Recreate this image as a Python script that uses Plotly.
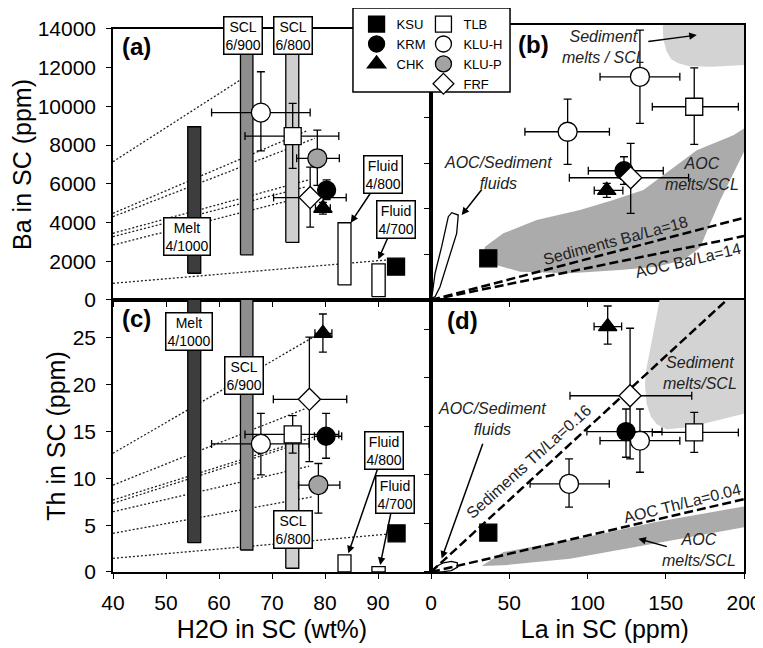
import plotly.graph_objects as go

# ---- samples (drawing order) ----
samples = ["KLU-H", "TLB", "KLU-P", "KRM", "FRF", "CHK", "KSU"]
symbols = ["circle", "square", "circle", "circle", "diamond", "triangle-up", "square"]
fill_left = ["white", "white", "#a3a3a3", "black", "white", "black", "black"]
fill_right = ["white", "white", "white", "black", "white", "black", "black"]
sizes = [19, 17, 19, 18, 17, 16, 17]
legend_group = ["legend2", "legend2", "legend2", "legend", "legend2", "legend", "legend"]
legend_rank = [2, 1, 3, 2, 4, 3, 1]

# panel (a): H2O vs Ba
h2o_a = [67.9, 73.9, 78.55, 80.3, 77.2, 79.6, 93.4]
ba_a = [9680, 8470, 7320, 5680, 5290, 4740, 1720]
h2o_a_minus = [9.3, 9.0, 3.9, 0, 6.9, 1.4, 0]
h2o_a_plus = [9.3, 8.7, 4.15, 0, 6.8, 1.4, 0]
ba_a_minus = [1980, 1670, 1400, 500, 1530, 300, 0]
ba_a_plus = [2110, 1690, 1460, 520, 1570, 300, 0]

# panel (b): La vs Ba
la_b = [133.5, 168.2, 87.3, 123.3, 127.6, 112.3, 36.6]
ba_b = [9781, 8467, 7372, 5663, 5357, 4800, 1825]
la_b_minus = [25.5, 26.8, 27.3, 22.8, 39.2, 8, 3]
la_b_plus = [25.5, 28.2, 26.7, 25.1, 37, 10.3, 3]
ba_b_minus = [2042, 1647, 1428, 600, 1560, 300, 0]
ba_b_plus = [2045, 1708, 1432, 614, 1506, 310, 0]

# panel (c): H2O vs Th
h2o_c = [67.9, 73.9, 78.75, 80.2, 77.05, 79.6, 93.5]
th_c = [13.68, 14.7, 9.29, 14.5, 18.45, 25.5, 4.13]
h2o_c_minus = [9.3, 9.0, 3.75, 2.2, 6.8, 1.5, 0]
h2o_c_plus = [9.1, 8.7, 4.05, 2.95, 7.05, 1.7, 0]
th_c_minus = [3.3, 2.0, 3.0, 2.35, 6.65, 2.0, 0]
th_c_plus = [3.27, 2.0, 2.3, 2.45, 6.65, 2.06, 0]

# panel (d): La vs Th
la_d = [133.5, 168.2, 88.2, 124.6, 127.2, 112.9, 36.6]
th_d = [13.52, 14.37, 9.08, 14.45, 18.14, 25.26, 4.05]
la_d_minus = [25.5, 26.8, 24.9, 25, 38.4, 8.7, 3]
la_d_plus = [25.5, 28.2, 25.7, 23, 39.4, 8.9, 3]
th_d_minus = [3.25, 2.05, 2.41, 2.64, 6.5, 1.81, 0]
th_d_plus = [3.26, 2.06, 2.56, 2.33, 6.95, 2.12, 0]

# experimental bars (panels a and c)
bar_labels = ["Melt<br>4/1000", "SCL<br>6/900", "SCL<br>6/800", "Fluid<br>4/800", "Fluid<br>4/700"]
bar_x0 = [54.1, 64.05, 72.6, 82.45, 88.85]
bar_x1 = [56.55, 66.4, 75.05, 84.9, 91.35]
bar_colors = ["#3d3d3d", "#8e8e8e", "#cfcfcf", "white", "white"]
ba_bar_low = [1380, 2330, 2980, 775, 170]
ba_bar_high = [8950, 15000, 15000, 3990, 1860]
th_bar_low = [3.13, 2.35, 0.4, 0, 0]
th_bar_high = [32, 32, 13.9, 1.82, 0.57]

# dotted mixing lines, all starting at H2O = 40
mix_a_start_ba = [7145, 4478, 4305, 3445, 3272, 2841, 861]
mix_a_end_h2o = [64.0, 76.5, 78.1, 76.85, 76.5, 72.45, 91.6]
mix_a_end_ba = [11365, 8730, 8353, 6200, 5853, 5078, 2066]
mix_c_start_th = [12.68, 9.29, 7.69, 7.34, 6.44, 4.13, 1.46]
mix_c_end_h2o = [77.8, 76.5, 78.1, 74.5, 77.0, 77.8, 93.5]
mix_c_end_th = [25.1, 17.5, 14.46, 13.6, 11.3, 8.05, 4.13]

# reference ratio lines
sed_ba_x, sed_ba_y = [0, 200], [0, 3600]
aoc_ba_x, aoc_ba_y = [0, 200], [0, 2800]
sed_th_x, sed_th_y = [0, 189], [0, 28]
aoc_th_x, aoc_th_y = [0, 200], [0, 7.5]

# fields
aoc_melt_b_la = [33.4, 34.5, 46.2, 67.5, 95.2, 116.5, 135.7, 152.8, 169.8, 193.2, 200, 200,
                 193, 185, 178, 172, 161.2, 144.2, 120.8, 88.8, 56.9, 37.7]
aoc_melt_b_ba = [2044, 2333, 2919, 3501, 3938, 4376, 4814, 5690, 6566, 7223, 7515, 6500,
                 5500, 4400, 3300, 2300, 1751, 1458, 1313, 1169, 1240, 1606]
sed_melt_b_la = [148, 148.5, 150.5, 153.5, 158, 165, 180, 200, 200]
sed_melt_b_ba = [12100, 11400, 10900, 10550, 10370, 10240, 10220, 10300, 12100]
fluid_b_la = [0.45, 2.56, 6.8, 11.05, 13.2, 17.4, 16.4, 11.05, 5.75, 2.56, 0.45]
fluid_b_ba = [74, 1170, 2335, 3650, 3825, 3723, 2920, 1752, 583, 145, 74]
sed_melt_d_la = [146.3, 143, 140, 137.5, 136.7, 137.8, 140.5, 144.2, 150.6, 165, 182.6, 200, 200]
sed_melt_d_th = [28.2, 25.5, 22.8, 20.8, 19.3, 17.3, 16.0, 15.2, 14.7, 14.9, 15.6, 16.3, 28.2]
aoc_melt_d_la = [32.4, 46.2, 99.5, 142, 200, 200, 142, 88.8, 46.2, 32.4]
aoc_melt_d_th = [0.62, 2.05, 3.6, 5.1, 6.75, 4.6, 2.9, 1.37, 0.69, 0.62]
fluid_d_la = [0.3, 3, 8, 13, 16.8, 17, 13, 7, 2, 0.3]
fluid_d_th = [0.05, 0.55, 0.95, 1.1, 0.95, 0.5, 0.15, 0.02, 0, 0.05]

FONT = '"Liberation Sans", Arial, sans-serif'
fig = go.Figure()


def field(x, y, xa, ya, color, line="rgba(0,0,0,0)", lw=0):
    fig.add_trace(go.Scatter(x=x, y=y, xaxis=xa, yaxis=ya, mode="lines", fill="toself",
                             fillcolor=color, line=dict(color=line, width=lw),
                             showlegend=False, hoverinfo="skip"))


def ratio_line(x, y, xa, ya):
    fig.add_trace(go.Scatter(x=x, y=y, xaxis=xa, yaxis=ya, mode="lines",
                             line=dict(color="black", width=2.5, dash="9px,4px"),
                             showlegend=False, hoverinfo="skip"))


def mixing(starts, end_x, end_y, xa, ya):
    for s, ex, ey in zip(starts, end_x, end_y):
        fig.add_trace(go.Scatter(x=[40, ex], y=[s, ey], xaxis=xa, yaxis=ya, mode="lines",
                                 line=dict(color="#222222", width=1.3, dash="2px,2px"),
                                 showlegend=False, hoverinfo="skip"))


def bars(lows, highs, xa, ya):
    for x0, x1, lo, hi, c in zip(bar_x0, bar_x1, lows, highs, bar_colors):
        fig.add_trace(go.Scatter(x=[x0, x1, x1, x0, x0], y=[lo, lo, hi, hi, lo],
                                 xaxis=xa, yaxis=ya, mode="lines", fill="toself",
                                 fillcolor=c, line=dict(color="black", width=1.3),
                                 showlegend=False, hoverinfo="skip"))


def points(xs, ys, xm, xp, ym, yp, fills, xa, ya, legend=False):
    for i, name in enumerate(samples):
        fig.add_trace(go.Scatter(
            x=[xs[i]], y=[ys[i]], xaxis=xa, yaxis=ya, mode="markers", name=name,
            marker=dict(symbol=symbols[i], size=sizes[i], color=fills[i],
                        line=dict(color="black", width=1.3)),
            error_x=dict(type="data", symmetric=False, array=[xp[i]], arrayminus=[xm[i]],
                         color="black", thickness=1.3, width=4, visible=xp[i] > 0),
            error_y=dict(type="data", symmetric=False, array=[yp[i]], arrayminus=[ym[i]],
                         color="black", thickness=1.3, width=4, visible=yp[i] > 0),
            showlegend=legend, legend=legend_group[i], legendrank=legend_rank[i]))


# panel (a)
mixing(mix_a_start_ba, mix_a_end_h2o, mix_a_end_ba, "x", "y")
bars(ba_bar_low, ba_bar_high, "x", "y")
points(h2o_a, ba_a, h2o_a_minus, h2o_a_plus, ba_a_minus, ba_a_plus, fill_left, "x", "y", True)

# panel (b)
field(sed_melt_b_la, sed_melt_b_ba, "x2", "y2", "#d3d3d3")
field(aoc_melt_b_la, aoc_melt_b_ba, "x2", "y2", "#ababab")
field(fluid_b_la, fluid_b_ba, "x2", "y2", "white", "black", 1.3)
ratio_line(sed_ba_x, sed_ba_y, "x2", "y2")
ratio_line(aoc_ba_x, aoc_ba_y, "x2", "y2")
points(la_b, ba_b, la_b_minus, la_b_plus, ba_b_minus, ba_b_plus, fill_right, "x2", "y2")

# panel (c)
mixing(mix_c_start_th, mix_c_end_h2o, mix_c_end_th, "x3", "y3")
bars(th_bar_low, th_bar_high, "x3", "y3")
points(h2o_c, th_c, h2o_c_minus, h2o_c_plus, th_c_minus, th_c_plus, fill_left, "x3", "y3")

# panel (d)
field(sed_melt_d_la, sed_melt_d_th, "x4", "y4", "#d3d3d3")
field(aoc_melt_d_la, aoc_melt_d_th, "x4", "y4", "#ababab")
field(fluid_d_la, fluid_d_th, "x4", "y4", "white", "black", 1.3)
ratio_line(sed_th_x, sed_th_y, "x4", "y4")
ratio_line(aoc_th_x, aoc_th_y, "x4", "y4")
points(la_d, th_d, la_d_minus, la_d_plus, th_d_minus, th_d_plus, fill_right, "x4", "y4")

# ---- annotations ----
ann = []


def box(text, x, y, xr, yr, tip=None):
    a = dict(text=text, x=x, y=y, xref=xr, yref=yr, showarrow=False,
             font=dict(size=14, color="black", family=FONT), bgcolor="white",
             bordercolor="black", borderwidth=1.5, borderpad=1)
    if tip:
        a.update(showarrow=True, x=tip[0], y=tip[1], ax=x, ay=y, axref=xr, ayref=yr,
                 arrowhead=2, arrowsize=1, arrowwidth=1.5, arrowcolor="black")
    ann.append(a)


def text(t, x, y, xr, yr, size=16, angle=0, bold=False):
    ann.append(dict(text=f"<b>{t}</b>" if bold else t, x=x, y=y, xref=xr, yref=yr,
                    showarrow=False, textangle=angle,
                    font=dict(size=size, color="#222222" if not bold else "black", family=FONT)))


def arrow(x0, y0, x1, y1, xr, yr):
    ann.append(dict(text="", x=x1, y=y1, ax=x0, ay=y0, xref=xr, yref=yr, axref=xr, ayref=yr,
                    showarrow=True, arrowhead=2, arrowsize=1, arrowwidth=1.5,
                    arrowcolor="black"))


# (a)
text("(a)", 44.5, 13120, "x", "y", 24, bold=True)
box(bar_labels[1], 64.5, 13680, "x", "y")
box(bar_labels[2], 73.9, 13680, "x", "y")
box(bar_labels[0], 54.0, 3265, "x", "y")
box(bar_labels[3], 90.85, 6458, "x", "y", tip=(84.85, 3993))
box(bar_labels[4], 93.36, 4159, "x", "y", tip=(90.06, 2103))
# (b)
text("(b)", 65.8, 11200, "x2", "y2", 24, bold=True)
text("<i>Sediment<br>melts / SCL</i>", 110, 11100, "x2", "y2")
arrow(137.9, 11314, 169.8, 11607, "x2", "y2")
text("<i>AOC/Sediment<br>fluids</i>", 43, 5550, "x2", "y2")
arrow(33.2, 4906, 19.6, 3723, "x2", "y2")
text("<i>AOC<br>melts/SCL</i>", 173, 5519, "x2", "y2")
text("Sediments Ba/La=18", 118, 2620, "x2", "y2", angle=-15)
text("AOC Ba/La=14", 164, 1740, "x2", "y2", angle=-13)
# (c)
text("(c)", 44.5, 27.1, "x3", "y3", 24, bold=True)
box(bar_labels[0], 54.3, 25.7, "x3", "y3")
box(bar_labels[1], 64.75, 20.96, "x3", "y3")
box(bar_labels[2], 73.9, 4.57, "x3", "y3")
box(bar_labels[3], 91.1, 12.95, "x3", "y3", tip=(84.4, 2.0))
box(bar_labels[4], 93.15, 8.3, "x3", "y3", tip=(90.4, 0.75))
# (d)
text("(d)", 19.8, 25.9, "x4", "y4", 24, bold=True)
text("<i>Sediment<br>melts/SCL</i>", 171.9, 20.45, "x4", "y4")
text("<i>AOC/Sediment<br>fluids</i>", 38.8, 15.7, "x4", "y4")
arrow(33.4, 13.35, 6.8, 1.38, "x4", "y4")
text("<i>AOC<br>melts/SCL</i>", 171.4, 2.23, "x4", "y4")
arrow(151.6, 2.57, 132.5, 3.43, "x4", "y4")
text("Sediments Th/La=0.16", 62.5, 11.4, "x4", "y4", angle=-42)
text("AOC Th/La=0.04", 160.2, 7.1, "x4", "y4", angle=-14)

# ---- axes ----
SPLIT_X = 0.504
SPLIT_Y = 0.4973
common = dict(showline=True, mirror=True, linecolor="black", linewidth=1.5, ticks="outside",
              ticklen=5, tickwidth=1.3, tickcolor="black", showgrid=False, zeroline=False,
              tickformat="d", automargin=False,
              tickfont=dict(size=21, color="black", family=FONT), ticklabelstandoff=6,
              title_font=dict(size=25, color="black", family=FONT))
legend_style = dict(yanchor="top", xanchor="left", bgcolor="rgba(0,0,0,0)",
                    font=dict(size=13, color="black", family=FONT),
                    itemsizing="trace", tracegroupgap=0)

# page body adds an 8px offset, so the figure is 8px smaller than the window
fig.update_layout(
    width=755, height=640,
    margin=dict(l=105, r=19, t=17, b=76, autoexpand=False),
    paper_bgcolor="white", plot_bgcolor="white",
    font=dict(family=FONT, color="black"),
    annotations=ann,
    xaxis=dict(common, domain=[0, SPLIT_X], range=[40, 100], dtick=10, anchor="y",
               showticklabels=False),
    yaxis=dict(common, domain=[SPLIT_Y, 0.9927], range=[0, 14000], dtick=2000, anchor="x",
               title=dict(text="Ba in SC (ppm)", standoff=0)),
    xaxis2=dict(common, domain=[SPLIT_X, 1], range=[0, 200], dtick=50, anchor="y2",
                showticklabels=False),
    yaxis2=dict(common, domain=[SPLIT_Y, 1], range=[0, 12050], dtick=2000, anchor="x2",
                showticklabels=False),
    xaxis3=dict(common, domain=[0, SPLIT_X], range=[40, 100], tickvals=[40, 50, 60, 70, 80, 90],
                anchor="y3", title=dict(text="H2O in SC (wt%)", standoff=8)),
    yaxis3=dict(common, domain=[0, SPLIT_Y], range=[0, 29.06], dtick=5, anchor="x3",
                title=dict(text="Th in SC (ppm)", standoff=0)),
    xaxis4=dict(common, domain=[SPLIT_X, 1], range=[0, 200], dtick=50, anchor="y4",
                title=dict(text="&nbsp;&nbsp;&nbsp;&nbsp;&nbsp;La in SC (ppm)", standoff=8)),
    yaxis4=dict(common, domain=[0, SPLIT_Y], range=[0, 28], dtick=5, anchor="x4",
                showticklabels=False),
    legend=dict(legend_style, x=0.386, y=1.029),
    legend2=dict(legend_style, x=0.492, y=1.029),
    shapes=[dict(type="rect", xref="paper", yref="paper", x0=0.3803, x1=0.6292,
                 y0=0.8775, y1=1.0311, fillcolor="white", line=dict(color="black", width=1.5),
                 layer="above")],
)

fig.write_html("out.html")
